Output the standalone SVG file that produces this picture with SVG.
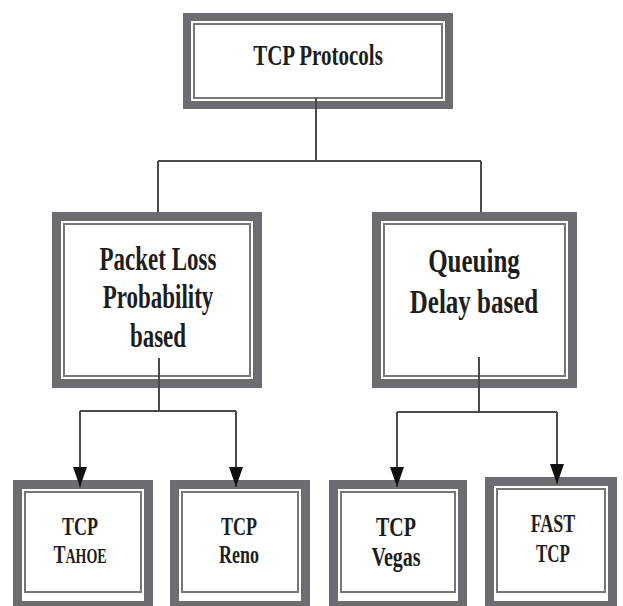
<svg xmlns="http://www.w3.org/2000/svg" width="623" height="606" viewBox="0 0 623 606">
<defs>
<style>
.outer{fill:#6d6d71}
.gap{fill:#ffffff}
.inner{fill:#ffffff;stroke:#77777b;stroke-width:2}
.lbl{font-family:"Liberation Serif","Times New Roman",serif;font-weight:bold;fill:#1e1e1e;text-anchor:middle}
.conn{fill:none;stroke:#4a4a4c;stroke-width:2}
</style>
<marker id="arr" markerUnits="userSpaceOnUse" markerWidth="20" markerHeight="14" refX="20" refY="7" orient="auto" viewBox="0 0 20 14">
<path d="M0,0 L20,7 L0,14 z" fill="#111"/>
</marker>
</defs>
<rect width="623" height="606" fill="#ffffff"/>

<g id="node-tcp-protocols">
<rect class="outer" x="183" y="13" width="270" height="96"/>
<rect class="gap" x="191" y="21" width="254" height="80"/>
<rect class="inner" x="194" y="24" width="248" height="74"/>
<text class="lbl" font-size="21" transform="translate(318,65) scale(1,1.4)">TCP Protocols</text>
</g>

<g id="node-packet-loss">
<rect class="outer" x="52" y="212" width="210" height="176"/>
<rect class="gap" x="61" y="221" width="192" height="158"/>
<rect class="inner" x="64" y="224" width="186" height="152"/>
<text class="lbl" font-size="23" transform="translate(158,270) scale(1,1.42)">Packet Loss</text>
<text class="lbl" font-size="23" transform="translate(158,308) scale(1,1.42)">Probability</text>
<text class="lbl" font-size="23" transform="translate(158,347) scale(1,1.42)">based</text>
</g>

<g id="node-queuing-delay">
<rect class="outer" x="372" y="212" width="205" height="176"/>
<rect class="gap" x="381" y="221" width="187" height="158"/>
<rect class="inner" x="384" y="224" width="181" height="152"/>
<text class="lbl" font-size="25" transform="translate(474,272) scale(1,1.32)">Queuing</text>
<text class="lbl" font-size="25" transform="translate(474,313) scale(1,1.32)">Delay based</text>
</g>

<g id="node-tcp-tahoe">
<rect class="outer" x="13" y="480" width="140" height="130"/>
<rect class="gap" x="22" y="489" width="122" height="112"/>
<rect class="inner" x="25" y="492" width="116" height="100"/>
<text class="lbl" font-size="18" transform="translate(80,535) scale(1,1.45)">TCP</text>
<text class="lbl" font-size="18" transform="translate(80,563) scale(1,1.45)">T<tspan font-size="14">AHOE</tspan></text>
</g>

<g id="node-tcp-reno">
<rect class="outer" x="170" y="480" width="140" height="130"/>
<rect class="gap" x="179" y="489" width="122" height="112"/>
<rect class="inner" x="182" y="492" width="116" height="100"/>
<text class="lbl" font-size="18" transform="translate(239,535) scale(1,1.45)">TCP</text>
<text class="lbl" font-size="18" transform="translate(239,563) scale(1,1.45)">Reno</text>
</g>

<g id="node-tcp-vegas">
<rect class="outer" x="329" y="480" width="138" height="130"/>
<rect class="gap" x="338" y="489" width="120" height="112"/>
<rect class="inner" x="341" y="492" width="114" height="100"/>
<text class="lbl" font-size="20" transform="translate(396,536) scale(1,1.35)">TCP</text>
<text class="lbl" font-size="20" transform="translate(396,566) scale(1,1.35)">Vegas</text>
</g>

<g id="node-fast-tcp">
<rect class="outer" x="485" y="477" width="132" height="133"/>
<rect class="gap" x="494" y="486" width="114" height="115"/>
<rect class="inner" x="497" y="489" width="108" height="103"/>
<text class="lbl" font-size="18" transform="translate(553,532) scale(1,1.45)">FAST</text>
<text class="lbl" font-size="17" transform="translate(553,562) scale(1,1.45)">TCP</text>
</g>

<g id="connectors">
<path class="conn" d="M316,98 V161"/>
<path class="conn" d="M158,161 H481"/>
<path class="conn" d="M158,161 V212"/>
<path class="conn" d="M481,161 V212"/>
<path class="conn" d="M159,358 V411"/>
<path class="conn" d="M80,411 H236"/>
<path class="conn" d="M80,411 V487" marker-end="url(#arr)"/>
<path class="conn" d="M236,411 V487" marker-end="url(#arr)"/>
<path class="conn" d="M479,357 V412"/>
<path class="conn" d="M397,412 H557"/>
<path class="conn" d="M397,412 V487" marker-end="url(#arr)"/>
<path class="conn" d="M557,412 V484" marker-end="url(#arr)"/>
</g>
</svg>
